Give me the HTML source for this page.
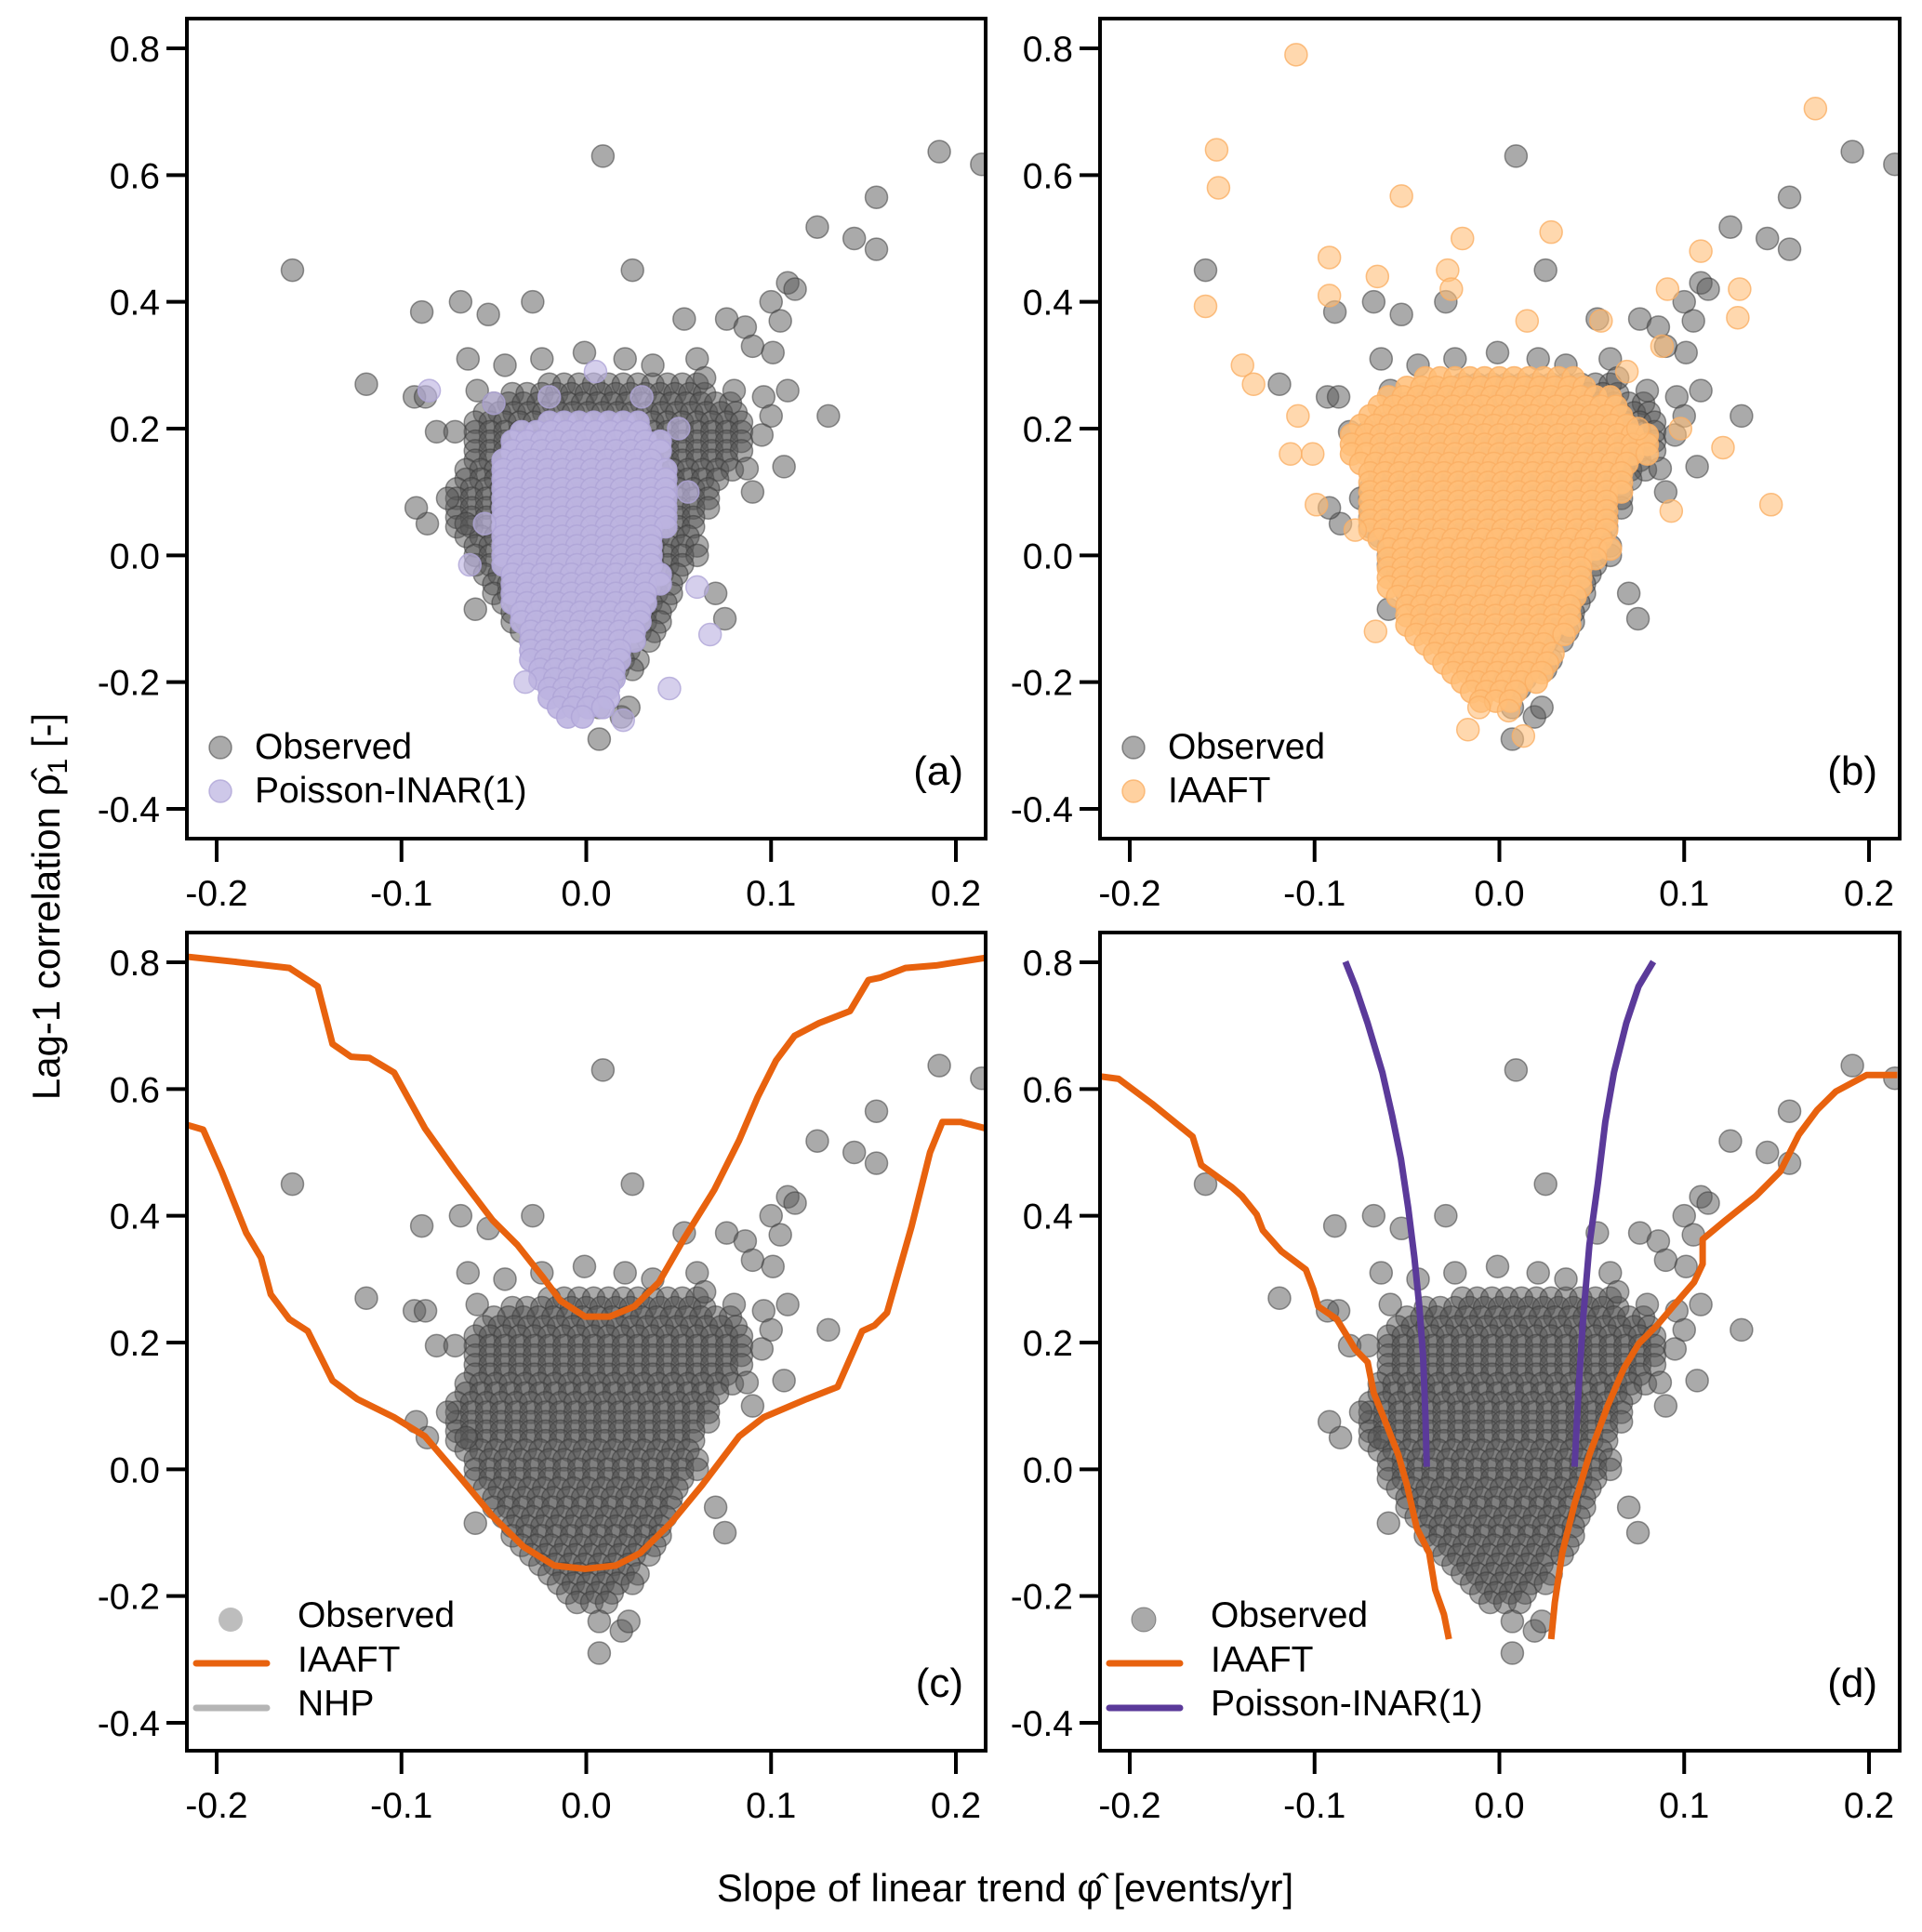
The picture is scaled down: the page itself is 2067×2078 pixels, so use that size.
<!DOCTYPE html>
<html><head><meta charset="utf-8"><style>
html,body{margin:0;padding:0;background:#fff;}
svg{display:block;font-family:"Liberation Sans",Arial,sans-serif;}
</style></head><body>
<svg id="fig" width="2067" height="2078" viewBox="0 0 2067 2078" xmlns="http://www.w3.org/2000/svg">
<g id="layer"></g>
<text x="64" y="975" font-size="42" text-anchor="middle" transform="rotate(-90 64 975)">Lag-1 correlation ρ̂<tspan font-size="30" dy="8">1</tspan><tspan dy="-8"> [-]</tspan></text>
<text x="1081" y="2045" font-size="42" text-anchor="middle">Slope of linear trend φ̂ [events/yr]</text>
</svg>
<script>
// ---- data ----
const xTicks = [-0.2, -0.1, 0.0, 0.1, 0.2];
const xTickLabels = ["-0.2", "-0.1", "0.0", "0.1", "0.2"];
const yTicks = [0.8, 0.6, 0.4, 0.2, 0.0, -0.2, -0.4];
const yTickLabels = ["0.8", "0.6", "0.4", "0.2", "0.0", "-0.2", "-0.4"];

// observed dense core: row y, row min x, row max x
const obsRowY   = [0.27, 0.255, 0.24, 0.225, 0.21, 0.195, 0.18, 0.165, 0.15, 0.135, 0.12, 0.105, 0.09, 0.075, 0.06, 0.045, 0.03, 0.015, 0, -0.015, -0.03, -0.045, -0.06, -0.075, -0.09, -0.105, -0.12, -0.135, -0.15, -0.165, -0.18, -0.195, -0.21];
const obsRowMin = [-0.02, -0.04, -0.05, -0.055, -0.06, -0.06, -0.06, -0.06, -0.06, -0.065, -0.065, -0.07, -0.07, -0.07, -0.07, -0.07, -0.065, -0.06, -0.06, -0.06, -0.055, -0.05, -0.05, -0.045, -0.04, -0.04, -0.035, -0.03, -0.025, -0.02, -0.015, -0.01, -0.005];
const obsRowMax = [0.06, 0.07, 0.08, 0.085, 0.09, 0.09, 0.09, 0.085, 0.08, 0.08, 0.075, 0.07, 0.07, 0.07, 0.065, 0.06, 0.06, 0.06, 0.06, 0.055, 0.055, 0.05, 0.05, 0.05, 0.045, 0.04, 0.04, 0.035, 0.03, 0.03, 0.025, 0.02, 0.015];
// observed scattered points
const obsX = [-0.159, 0.009, 0.191, 0.214, 0.157, 0.125, 0.145, 0.157, 0.025, -0.119, -0.089, -0.068, -0.053, -0.029, 0.053, 0.076, 0.086, 0.1, 0.109, 0.113, 0.09, 0.105, 0.101, 0.109, 0.131, 0.107, 0.09, 0.087, -0.064, -0.044, -0.059, -0.024, -0.001, 0.021, 0.036, 0.06, 0.064, -0.093, -0.087, -0.081, -0.071, -0.086, -0.092, -0.06, 0.007, 0.019, 0.007, 0.023, 0.096, 0.1, 0.08, 0.095, -0.075, -0.065, 0.07, 0.075];
const obsY = [0.45, 0.63, 0.637, 0.617, 0.565, 0.518, 0.50, 0.483, 0.45, 0.27, 0.384, 0.40, 0.38, 0.40, 0.373, 0.373, 0.36, 0.40, 0.43, 0.42, 0.33, 0.37, 0.32, 0.26, 0.22, 0.14, 0.10, 0.137, 0.31, 0.30, 0.26, 0.31, 0.32, 0.31, 0.30, 0.31, 0.28, 0.25, 0.25, 0.195, 0.195, 0.05, 0.075, -0.085, -0.29, -0.255, -0.24, -0.24, 0.25, 0.22, 0.26, 0.19, 0.09, 0.05, -0.06, -0.1];

// Poisson-INAR(1) simulated points (panel a)
const inarRowY   = [0.21, 0.195, 0.18, 0.165, 0.15, 0.135, 0.12, 0.105, 0.09, 0.075, 0.06, 0.045, 0.03, 0.015, 0, -0.015, -0.03, -0.045, -0.06, -0.075, -0.09, -0.105, -0.12, -0.135, -0.15, -0.165, -0.18, -0.195, -0.21, -0.225, -0.24, -0.255];
const inarRowMin = [-0.02, -0.035, -0.04, -0.04, -0.045, -0.045, -0.045, -0.045, -0.045, -0.045, -0.045, -0.045, -0.045, -0.045, -0.045, -0.045, -0.04, -0.04, -0.04, -0.04, -0.035, -0.035, -0.03, -0.03, -0.03, -0.03, -0.025, -0.025, -0.02, -0.02, -0.015, -0.01];
const inarRowMax = [0.03, 0.035, 0.04, 0.04, 0.04, 0.045, 0.045, 0.045, 0.045, 0.045, 0.045, 0.045, 0.04, 0.04, 0.04, 0.04, 0.04, 0.04, 0.035, 0.035, 0.035, 0.035, 0.03, 0.03, 0.025, 0.025, 0.02, 0.02, 0.015, 0.015, 0.01, 0.005];
const inarX = [-0.085, 0.005, 0.067, 0.045, -0.033, -0.063, -0.05, 0.03, 0.05, -0.02, 0.02, 0.055, -0.055, 0.06];
const inarY = [0.26, 0.29, -0.125, -0.21, -0.2, -0.015, 0.24, 0.25, 0.2, 0.25, -0.26, 0.1, 0.05, -0.05];

// IAAFT simulated points (panel b)
const iaRowY   = [0.28, 0.265, 0.25, 0.235, 0.22, 0.205, 0.19, 0.175, 0.16, 0.145, 0.13, 0.115, 0.1, 0.085, 0.07, 0.055, 0.04, 0.025, 0.01, -0.005, -0.02, -0.035, -0.05, -0.065, -0.08, -0.095, -0.11, -0.125, -0.14, -0.155, -0.17, -0.185, -0.2, -0.215, -0.23];
const iaRowMin = [-0.04, -0.05, -0.06, -0.065, -0.07, -0.075, -0.08, -0.08, -0.08, -0.075, -0.07, -0.07, -0.07, -0.07, -0.07, -0.07, -0.07, -0.065, -0.06, -0.06, -0.06, -0.06, -0.06, -0.055, -0.05, -0.05, -0.05, -0.045, -0.04, -0.035, -0.03, -0.025, -0.02, -0.015, -0.01];
const iaRowMax = [0.04, 0.05, 0.06, 0.065, 0.07, 0.075, 0.08, 0.08, 0.08, 0.075, 0.07, 0.07, 0.07, 0.065, 0.06, 0.06, 0.06, 0.06, 0.06, 0.055, 0.05, 0.05, 0.05, 0.045, 0.04, 0.04, 0.04, 0.035, 0.03, 0.03, 0.03, 0.025, 0.02, 0.015, 0.01];
const iaX = [-0.11, 0.171, -0.153, -0.152, -0.053, -0.02, 0.028, -0.159, -0.092, -0.092, -0.066, -0.028, -0.026, 0.015, 0.055, 0.091, 0.109, 0.13, 0.129, 0.147, 0.121, 0.093, -0.139, -0.133, -0.109, -0.113, -0.101, -0.099, -0.078, -0.067, -0.017, 0.013, 0.005, -0.011, 0.075, 0.069, 0.088, 0.098];
const iaY = [0.79, 0.705, 0.64, 0.58, 0.567, 0.50, 0.51, 0.393, 0.47, 0.41, 0.44, 0.45, 0.42, 0.37, 0.37, 0.42, 0.48, 0.42, 0.375, 0.08, 0.17, 0.07, 0.30, 0.27, 0.22, 0.16, 0.16, 0.08, 0.04, -0.12, -0.275, -0.285, -0.245, -0.24, 0.2, 0.29, 0.33, 0.2];

// panel c IAAFT envelope
const cUpX = [-0.2167, -0.1907, -0.1607, -0.1453, -0.1373, -0.1273, -0.1173, -0.104, -0.0873, -0.0707, -0.0507, -0.0373, -0.024, -0.014, -0.0007, 0.0127, 0.026, 0.0393, 0.0527, 0.0693, 0.0827, 0.0927, 0.1027, 0.1127, 0.126, 0.1427, 0.1527, 0.1593, 0.1727, 0.1893, 0.216];
const cUpY = [0.809, 0.801, 0.791, 0.762, 0.671, 0.651, 0.649, 0.626, 0.538, 0.470, 0.393, 0.354, 0.305, 0.266, 0.241, 0.241, 0.257, 0.295, 0.363, 0.441, 0.519, 0.587, 0.645, 0.684, 0.704, 0.723, 0.772, 0.776, 0.791, 0.795, 0.807];
const cLoX = [-0.2167, -0.2073, -0.1973, -0.184, -0.176, -0.1707, -0.1607, -0.1507, -0.1373, -0.124, -0.104, -0.0873, -0.0673, -0.0507, -0.034, -0.0173, -0.0007, 0.016, 0.0293, 0.046, 0.0627, 0.0827, 0.096, 0.1193, 0.136, 0.1493, 0.156, 0.1627, 0.176, 0.186, 0.1927, 0.2027, 0.216];
const cLoY = [0.544, 0.536, 0.470, 0.373, 0.334, 0.276, 0.237, 0.218, 0.140, 0.111, 0.082, 0.052, -0.016, -0.074, -0.122, -0.152, -0.157, -0.152, -0.132, -0.084, -0.025, 0.052, 0.082, 0.111, 0.130, 0.218, 0.227, 0.247, 0.383, 0.500, 0.548, 0.548, 0.538];

// panel d envelopes
const dIaLX = [-0.216, -0.206, -0.188, -0.166, -0.1613, -0.1447, -0.1393, -0.1313, -0.128, -0.118, -0.1047, -0.1007, -0.098, -0.088, -0.078, -0.0713, -0.068, -0.0613, -0.0547, -0.05, -0.0447, -0.038, -0.0347, -0.03, -0.0273];
const dIaLY = [0.620, 0.616, 0.577, 0.525, 0.480, 0.445, 0.431, 0.402, 0.377, 0.344, 0.315, 0.284, 0.257, 0.237, 0.189, 0.169, 0.121, 0.072, 0.023, -0.025, -0.093, -0.132, -0.190, -0.229, -0.268];
const dIaRX = [0.028, 0.03, 0.034, 0.0407, 0.0487, 0.0587, 0.0673, 0.0753, 0.0853, 0.094, 0.1053, 0.11, 0.11, 0.122, 0.1387, 0.152, 0.162, 0.172, 0.182, 0.1987, 0.2153];
const dIaRY = [-0.268, -0.21, -0.132, -0.054, 0.023, 0.101, 0.159, 0.198, 0.227, 0.257, 0.295, 0.324, 0.363, 0.392, 0.431, 0.470, 0.528, 0.567, 0.596, 0.622, 0.622];
const dInLX = [-0.0833, -0.078, -0.0713, -0.0633, -0.058, -0.0533, -0.0493, -0.046, -0.0433, -0.0413, -0.04, -0.0393];
const dInLY = [0.801, 0.762, 0.704, 0.626, 0.558, 0.490, 0.412, 0.334, 0.257, 0.179, 0.082, 0.004];
const dInRX = [0.0407, 0.0427, 0.0453, 0.0487, 0.0533, 0.0573, 0.062, 0.0687, 0.0753, 0.0833];
const dInRY = [0.004, 0.121, 0.237, 0.354, 0.451, 0.548, 0.626, 0.704, 0.762, 0.801];

// ---- drawing ----
const NS = "http://www.w3.org/2000/svg";
const layer = document.getElementById("layer");
function mk(tag, attrs, parent) {
  const e = document.createElementNS(NS, tag);
  for (const k in attrs) e.setAttribute(k, attrs[k]);
  (parent || layer).appendChild(e);
  return e;
}
const panels = [
  {id: "a", L: 201, R: 1060, T: 20, B: 902},
  {id: "b", L: 1183, R: 2043, T: 20, B: 902},
  {id: "c", L: 201, R: 1060, T: 1003, B: 1883},
  {id: "d", L: 1183, R: 2043, T: 1003, B: 1883}
];
function sx(p, v) { return p.L + 32 + (v + 0.2) / 0.4 * 795; }
function sy(p, v) { return p.T + 32 + (0.8 - v) / 1.2 * 818; }

function drawPts(g, p, xs, ys, fill, stroke, name) {
  for (let i = 0; i < xs.length; i++) {
    const c = mk("circle", {cx: sx(p, xs[i]), cy: sy(p, ys[i]), r: 12, fill: fill, stroke: stroke, "stroke-width": 1.5}, g);
    
    
  }
}
function drawRows(g, p, rY, rMin, rMax, fill, stroke, name) {
  for (let i = 0; i < rY.length; i++) {
    for (let x = rMin[i]; x <= rMax[i] + 1e-9; x += 0.008) {
      const c = mk("circle", {cx: sx(p, x), cy: sy(p, rY[i]), r: 12, fill: fill, stroke: stroke, "stroke-width": 1.5}, g);
      
      
    }
  }
}
function drawLine(g, p, xs, ys, color, name) {
  let d = "";
  for (let i = 0; i < xs.length; i++) d += (i ? "L" : "M") + sx(p, xs[i]).toFixed(1) + "," + sy(p, ys[i]).toFixed(1);
  const e = mk("path", {d: d, fill: "none", stroke: color, "stroke-width": 7, "stroke-linejoin": "round"}, g);
  
  
}
const OBS_F = "rgba(85,85,85,0.5)", OBS_S = "rgba(60,60,60,0.55)";
const ORANGE = "#e8620e", PURPLE = "#5b3a9a";

panels.forEach(p => {
  const g = mk("g", {});
  
  
  const cp = mk("clipPath", {id: "clip-" + p.id}, g);
  mk("rect", {x: p.L, y: p.T, width: p.R - p.L, height: p.B - p.T}, cp);
  const data = mk("g", {"clip-path": "url(#clip-" + p.id + ")"}, g);
  
  

  drawRows(data, p, obsRowY, obsRowMin, obsRowMax, OBS_F, OBS_S, 'observed-point');
  drawPts(data, p, obsX, obsY, OBS_F, OBS_S, 'observed-point');
  if (p.id === "a") {
    drawRows(data, p, inarRowY, inarRowMin, inarRowMax, "rgba(188,180,224,0.9)", "rgba(175,165,215,0.9)", 'inar-point');
    drawPts(data, p, inarX, inarY, "rgba(190,182,226,0.65)", "rgba(175,165,215,0.8)", 'inar-point');
  }
  if (p.id === "b") {
    drawRows(data, p, iaRowY, iaRowMin, iaRowMax, "rgba(255,190,120,0.85)", "rgba(250,175,100,0.85)", 'iaaft-point');
    drawPts(data, p, iaX, iaY, "rgba(255,190,120,0.6)", "rgba(250,175,100,0.8)", 'iaaft-point');
  }
  if (p.id === "c") {
    drawLine(data, p, cUpX, cUpY, ORANGE, 'iaaft-upper-line');
    drawLine(data, p, cLoX, cLoY, ORANGE, 'iaaft-lower-line');
  }
  if (p.id === "d") {
    drawLine(data, p, dIaLX, dIaLY, ORANGE, 'iaaft-left-line');
    drawLine(data, p, dIaRX, dIaRY, ORANGE, 'iaaft-right-line');
    drawLine(data, p, dInLX, dInLY, PURPLE, 'inar-left-line');
    drawLine(data, p, dInRX, dInRY, PURPLE, 'inar-right-line');
  }
  const fr = mk("rect", {x: p.L, y: p.T, width: p.R - p.L, height: p.B - p.T, fill: "none", stroke: "#000", "stroke-width": 4}, g);
  
  

  xTicks.forEach((v, i) => {
    const x = sx(p, v);
    const t = mk("line", {x1: x, x2: x, y1: p.B, y2: p.B + 25, stroke: "#000", "stroke-width": 4}, g);
    
    
    const l = mk("text", {x: x, y: p.B + 72, "font-size": 39, "text-anchor": "middle"}, g);
    l.textContent = xTickLabels[i];
    
    
  });
  yTicks.forEach((v, i) => {
    const y = sy(p, v);
    const t = mk("line", {x1: p.L - 22, x2: p.L, y1: y, y2: y, stroke: "#000", "stroke-width": 4}, g);
    
    
    const l = mk("text", {x: p.L - 29, y: y + 14, "font-size": 39, "text-anchor": "end"}, g);
    l.textContent = yTickLabels[i];
    
    
  });
  const pl = mk("text", {x: p.R - 24, y: p.B - 58, "font-size": 44, "text-anchor": "end"}, g);
  pl.textContent = "(" + p.id + ")";
  
  

  // legends
  const lg = mk("g", {}, g);
  
  
  function entryText(x, y, s) {
    const t = mk("text", {x: x, y: y, "font-size": 39}, lg);
    t.textContent = s;
    
    
  }
  if (p.id === "a" || p.id === "b") {
    mk("circle", {cx: p.L + 36, cy: 804, r: 12, fill: OBS_F, stroke: OBS_S, "stroke-width": 1.5}, lg);
    entryText(p.L + 73, 816, "Observed");
    if (p.id === "a") {
      mk("circle", {cx: p.L + 36, cy: 851, r: 12, fill: "rgba(190,182,226,0.75)", stroke: "rgba(175,165,215,0.8)", "stroke-width": 1.5}, lg);
      entryText(p.L + 73, 863, "Poisson-INAR(1)");
    } else {
      mk("circle", {cx: p.L + 36, cy: 851, r: 12, fill: "rgba(255,190,120,0.7)", stroke: "rgba(250,175,100,0.8)", "stroke-width": 1.5}, lg);
      entryText(p.L + 73, 863, "IAAFT");
    }
  } else {
    mk("circle", {cx: p.L + 47, cy: 1742, r: 13, fill: p.id === "c" ? "#bdbdbd" : OBS_F, stroke: p.id === "c" ? "none" : OBS_S}, lg);
    entryText(p.L + 119, 1750, "Observed");
    mk("line", {x1: p.L + 10, x2: p.L + 86, y1: 1789, y2: 1789, stroke: ORANGE, "stroke-width": 7, "stroke-linecap": "round"}, lg);
    entryText(p.L + 119, 1798, "IAAFT");
    mk("line", {x1: p.L + 10, x2: p.L + 86, y1: 1837, y2: 1837, stroke: p.id === "c" ? "#b5b5b5" : PURPLE, "stroke-width": 7, "stroke-linecap": "round"}, lg);
    entryText(p.L + 119, 1845, p.id === "c" ? "NHP" : "Poisson-INAR(1)");
  }
});
</script>
</body></html>
